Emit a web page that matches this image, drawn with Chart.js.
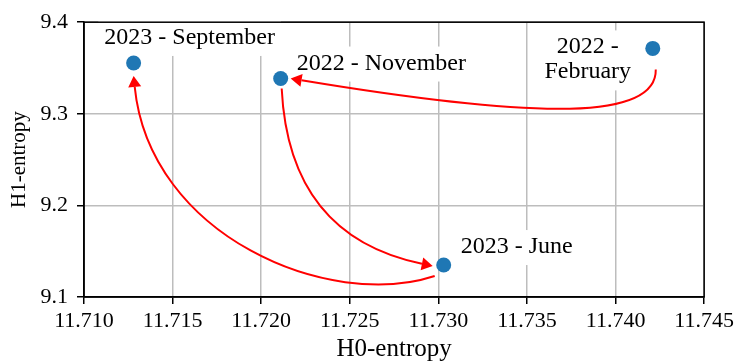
<!DOCTYPE html>
<html>
<head>
<meta charset="utf-8">
<script src="https://cdn.jsdelivr.net/npm/chart.js@4"></script>
<style>
html,body{margin:0;padding:0;background:#fff;}
canvas{display:block;}
</style>
</head>
<body>
<canvas id="c" width="738" height="363"></canvas>
<script>
// ---- data ----
const periods = ['2022 - February', '2022 - November', '2023 - June', '2023 - September'];
const h0Entropy = [11.7421, 11.7211, 11.7303, 11.7128];
const h1Entropy = [9.3714, 9.3385, 9.1349, 9.3555];
const xTicks = [11.710, 11.715, 11.720, 11.725, 11.730, 11.735, 11.740, 11.745];
const yTicks = [9.1, 9.2, 9.3, 9.4];
// arrows follow chronological order: [from index, to index]
const transitions = [[0, 1], [1, 2], [2, 3]];

// ---- styling (pixel offsets relative to the data points) ----
const SERIF = '"Liberation Serif", "Times New Roman", serif';
const labelStyle = [
  {lines: ['2022 -', 'February'], align: 'center', dx: -65, dy: 5, gap: 25},
  {lines: ['2022 - November'], align: 'left', dx: 16, dy: -9, gap: 25},
  {lines: ['2023 - June'], align: 'left', dx: 17, dy: -12, gap: 25},
  {lines: ['2023 - September'], align: 'center', dx: 56, dy: -19, gap: 25}
];
// start offset (from source point), c1 offset (from start), c2 offset (from end), end offset (from target point)
const arrowStyle = [
  {s: [3, 21], c1: [1, 50], c2: [253, 42], e: [10, 0]},
  {s: [1, 10], c1: [5, 102], c2: [-96, -20], e: [-11, 1]},
  {s: [-9, 11], c1: [-106, 35], c2: [16, 160], e: [0, 13]}
];

const annotPlugin = {
  id: 'annot',
  beforeDatasetsDraw(chart) {
    const ctx = chart.ctx, xs = chart.scales.x, ys = chart.scales.y;
    const pt = i => [xs.getPixelForValue(h0Entropy[i]), ys.getPixelForValue(h1Entropy[i])];
    ctx.save();
    // labels with white boxes
    ctx.font = '24px ' + SERIF;
    ctx.textBaseline = 'alphabetic';
    periods.forEach((p, i) => {
      const st = labelStyle[i];
      const [x, y] = pt(i);
      const ax = x + st.dx, by = y + st.dy;
      const widths = st.lines.map(l => ctx.measureText(l).width);
      const w = Math.max(...widths);
      const left = st.align === 'center' ? ax - w / 2 : ax;
      const top = by - 17 - 6;
      const bottom = by + st.gap * (st.lines.length - 1) + 6 + 6;
      ctx.fillStyle = '#fff';
      ctx.fillRect(left - 6, top, w + 12, bottom - top);
      ctx.fillStyle = '#000';
      ctx.textAlign = st.align;
      st.lines.forEach((l, k) => ctx.fillText(l, ax, by + k * st.gap));
    });
    // arrows
    ctx.strokeStyle = '#ff0000';
    ctx.fillStyle = '#ff0000';
    ctx.lineWidth = 2;
    transitions.forEach(([a, b], k) => {
      const st = arrowStyle[k];
      const [xa, ya] = pt(a), [xb, yb] = pt(b);
      const p0 = [xa + st.s[0], ya + st.s[1]];
      const p3 = [xb + st.e[0], yb + st.e[1]];
      const c1 = [p0[0] + st.c1[0], p0[1] + st.c1[1]];
      const c2 = [p3[0] + st.c2[0], p3[1] + st.c2[1]];
      const ang = Math.atan2(p3[1] - c2[1], p3[0] - c2[0]);
      const L = 11, W = 6.5;
      const base = [p3[0] - L * Math.cos(ang), p3[1] - L * Math.sin(ang)];
      ctx.beginPath();
      ctx.moveTo(p0[0], p0[1]);
      ctx.bezierCurveTo(c1[0], c1[1], c2[0], c2[1], base[0], base[1]);
      ctx.stroke();
      ctx.beginPath();
      ctx.moveTo(p3[0], p3[1]);
      ctx.lineTo(base[0] + W * Math.sin(ang), base[1] - W * Math.cos(ang));
      ctx.lineTo(base[0] - W * Math.sin(ang), base[1] + W * Math.cos(ang));
      ctx.closePath();
      ctx.fill();
    });
    ctx.restore();
  },
  afterDraw(chart) {
    const a = chart.chartArea, ctx = chart.ctx;
    ctx.save();
    ctx.strokeStyle = '#000';
    ctx.lineWidth = 1.5;
    ctx.strokeRect(a.left, a.top, a.right - a.left, a.bottom - a.top);
    ctx.restore();
  }
};

new Chart(document.getElementById('c'), {
  type: 'scatter',
  data: {
    datasets: [{
      label: 'H1 vs H0',
      data: h0Entropy.map((x, i) => ({x: x, y: h1Entropy[i]})),
      backgroundColor: '#1f77b4',
      borderWidth: 0,
      pointRadius: 7.5,
      pointHoverRadius: 7.5
    }]
  },
  options: {
    responsive: false,
    animation: false,
    layout: {padding: {top: 14, right: 32, left: 0, bottom: 0}},
    plugins: {legend: {display: false}, tooltip: {enabled: false}},
    scales: {
      x: {
        type: 'linear',
        min: xTicks[0], max: xTicks[xTicks.length - 1],
        afterBuildTicks: s => { s.ticks = xTicks.map(v => ({value: v})); },
        afterFit: s => { s.height = 66; },
        ticks: {
          callback: v => Number(v).toFixed(3),
          font: {family: SERIF, size: 22},
          color: '#000',
          padding: 4,
          maxRotation: 0
        },
        grid: {color: '#bdbdbd', lineWidth: 1.5, tickColor: '#000', tickLength: 7, tickWidth: 1.5},
        border: {display: true, color: '#000', width: 1.5},
        title: {display: true, text: 'H0-entropy', color: '#000',
          font: {family: SERIF, size: 25, lineHeight: 1}, padding: {top: 0, bottom: 1}}
      },
      y: {
        type: 'linear',
        min: yTicks[0], max: yTicks[yTicks.length - 1],
        afterBuildTicks: s => { s.ticks = yTicks.map(v => ({value: v})); },
        afterFit: s => { s.width = 84; },
        ticks: {
          callback: v => Number(v).toFixed(1),
          font: {family: SERIF, size: 22},
          color: '#000',
          padding: 9
        },
        grid: {color: '#bdbdbd', lineWidth: 1.5, tickColor: '#000', tickLength: 7, tickWidth: 1.5},
        border: {display: true, color: '#000', width: 1.5},
        title: {display: true, text: 'H1-entropy', color: '#000',
          font: {family: SERIF, size: 21, lineHeight: 1}, padding: {top: 9, bottom: 0}}
      }
    }
  },
  plugins: [annotPlugin]
});
</script>
</body>
</html>
